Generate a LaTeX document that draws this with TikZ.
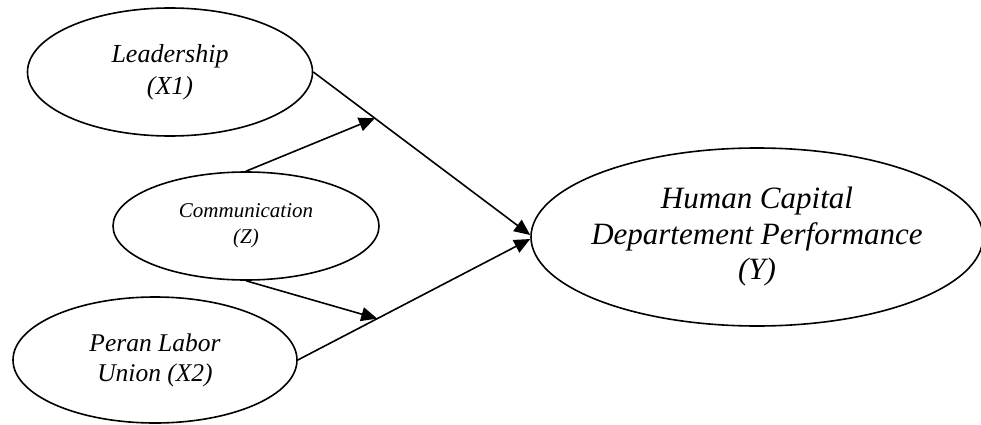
\documentclass[tikz,border=0pt]{standalone}
\usepackage{fontspec}
\setmainfont{Liberation Serif}
\usetikzlibrary{arrows.meta,shapes.geometric}
\newcommand{\tebalGaris}{1.6pt}
\newcommand{\hurufY}{\fontsize{31}{35.5}\selectfont\itshape}
\newcommand{\hurufX}{\fontsize{26}{32}\selectfont\itshape}
\newcommand{\hurufXdua}{\fontsize{25.5}{30}\selectfont\itshape}
\newcommand{\hurufZ}{\fontsize{21}{26}\selectfont\itshape}
\tikzset{
	variabel/.style={draw,ellipse,line width=\tebalGaris,inner sep=0pt,align=center},
	panah/.style={-{Triangle[length=16pt,width=14pt]},line width=\tebalGaris}
}

\begin{document}
\begin{tikzpicture}[x=1pt,y=1pt]
	\useasboundingbox (0,0) rectangle (981,424);
	% variabel bebas, moderasi dan terikat
	\node[variabel,minimum width=285,minimum height=128,font=\hurufX] (x1) at (170,352) {Leadership\\(X1)};
	\node[variabel,minimum width=266,minimum height=108,font=\hurufZ] (z) at (246,198) {Communication\\(Z)};
	\node[variabel,minimum width=284,minimum height=126,font=\hurufXdua] (x2) at (155,64) {Peran Labor\\Union (X2)};
	\node[variabel,inner xsep=-30pt,minimum width=452,minimum height=178,font=\hurufY] (y) at (757,187) {Human Capital\\Departement Performance\\(Y)};
	% pengaruh langsung
	\draw[panah] (x1.east) -- coordinate[pos=0.284] (m1) ([yshift=2]y.west);
	\draw[panah] (x2.east) -- coordinate[pos=0.342] (m2) ([yshift=-2]y.west);
	% efek moderasi
	\draw[panah] (z.north) -- (m1);
	\draw[panah] (z.south) -- (m2);
\end{tikzpicture}
\end{document}
